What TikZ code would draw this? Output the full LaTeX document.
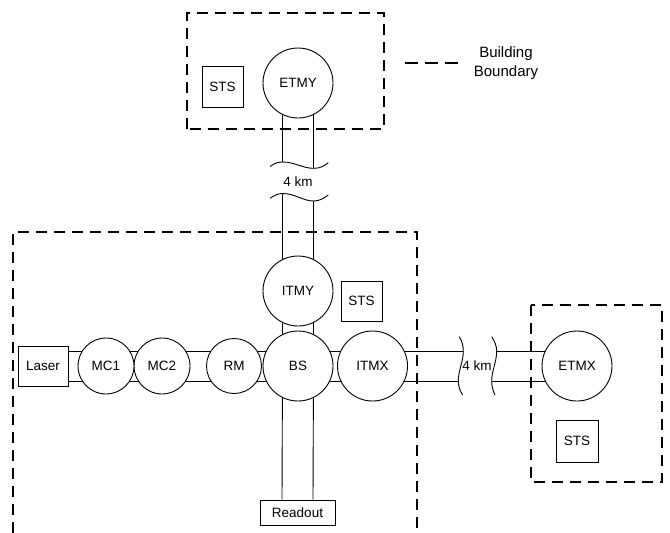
\documentclass[tikz,border=0pt]{standalone}
\usepackage{fontspec}
\setmainfont{Liberation Sans}
\pgfdeclarelayer{background}
\pgfsetlayers{background,main}
\begin{document}
\begin{tikzpicture}[x=1pt,y=-1pt,
  every node/.style={font=\fontsize{13.5}{15}\selectfont},
  mirror/.style={circle,draw,fill=white,line width=0.9pt,minimum size=70pt,inner sep=0pt},
  smallmirror/.style={mirror,minimum size=56pt},
  boxnode/.style={rectangle,draw,fill=white,line width=0.9pt,inner sep=0pt},
  boundary/.style={line width=2pt,dash pattern=on 11pt off 7pt},
  tube/.style={line width=0.9pt},
  wave/.style={line width=0.9pt}]
\useasboundingbox (0,0) rectangle (670,533);

% building boundaries
\draw[boundary] (187,129) rectangle (384,13);
\draw[boundary] (13,533) -- (13,232) -- (417,232) -- (417,533);
\draw[boundary] (531,305) rectangle (662,482);

% legend
\coordinate (lg1) at (405,63);
\coordinate (lg2) at (458,63);
\draw[line width=2pt,dash pattern=on 13pt off 7pt] (lg1) -- (lg2);
\node[align=center,font=\fontsize{15}{19}\selectfont] (legend) at (506,63) {Building\\Boundary};

% components
\node[mirror] (etmy) at (298,83) {ETMY};
\node[boxnode,minimum width=41pt,minimum height=41pt] (sts1) at (222.5,87) {STS};
\node[mirror] (itmy) at (298,291) {ITMY};
\node[boxnode,minimum width=41pt,minimum height=40pt] (sts2) at (361.5,301) {STS};
\node[mirror] (bs) at (298,366) {BS};
\node[mirror] (itmx) at (372.5,366) {ITMX};
\node[mirror,minimum size=55pt] (rm) at (234,366) {RM};
\node[smallmirror] (mc2) at (162,366) {MC2};
\node[smallmirror] (mc1) at (106,366) {MC1};
\node[boxnode,minimum width=50pt,minimum height=40pt] (laser) at (43,366) {Laser};
\node[boxnode,minimum width=75pt,minimum height=25pt] (readout) at (297.5,512.5) {Readout};
\node[mirror] (etmx) at (577,366) {ETMX};
\node[boxnode,minimum width=42pt,minimum height=42pt] (sts3) at (577,441) {STS};

% break marks
\coordinate (yu1) at (282.5,162);
\coordinate (yu2) at (313.5,168.3);
\coordinate (yl1) at (282.5,193.5);
\coordinate (yl2) at (313.5,201);
\coordinate (xl1) at (463.3,351);
\coordinate (xl2) at (458.3,381.5);
\coordinate (xr1) at (496.7,351);
\coordinate (xr2) at (491.7,381.5);

\draw[wave] (270,166.5) .. controls (275,163) and (278,162) .. (yu1)
  .. controls (295,162) and (303,168.5) .. (yu2)
  .. controls (320,168.5) and (324,166) .. (328.3,162.7);
\draw[wave] (270,198.3) .. controls (275,195) and (278,193.5) .. (yl1)
  .. controls (295,193.5) and (303,201) .. (yl2)
  .. controls (320,201) and (324,198) .. (328.3,195);
\draw[wave] (459.3,336.7) .. controls (462,341) and (463.3,346) .. (xl1)
  .. controls (463.3,362) and (458.3,370) .. (xl2)
  .. controls (458.3,386) and (460,391) .. (462.7,395);
\draw[wave] (491.7,336.7) .. controls (494.5,341) and (496.7,346) .. (xr1)
  .. controls (496.7,362) and (491.7,370) .. (xr2)
  .. controls (491.7,386) and (493,391) .. (495,395);
\node[inner sep=0pt] (km1) at (298,182) {4 km};
\node[inner sep=0pt] (km2) at (477,366) {4 km};

% tubes (behind the components)
\begin{pgfonlayer}{background}
\draw[tube] ([xshift=-15.5pt]etmy.center) -- (yu1);
\draw[tube] ([xshift=15.5pt]etmy.center) -- (yu2);
\draw[tube] (yl1) -- ([xshift=-15.5pt]bs.center);
\draw[tube] (yl2) -- ([xshift=15.5pt]bs.center);
\draw[tube] ([xshift=-15.5pt]bs.center) -- ([xshift=-15.5pt]readout.north);
\draw[tube] ([xshift=15.5pt]bs.center) -- ([xshift=15.5pt]readout.north);
\draw[tube] ([yshift=15pt]laser.east) -- (xl1);
\draw[tube] ([yshift=-15.5pt]laser.east) -- (xl2);
\draw[tube] (xr1) -- ([yshift=15pt]etmx.center);
\draw[tube] (xr2) -- ([yshift=-15.5pt]etmx.center);
\end{pgfonlayer}
\end{tikzpicture}
\end{document}
